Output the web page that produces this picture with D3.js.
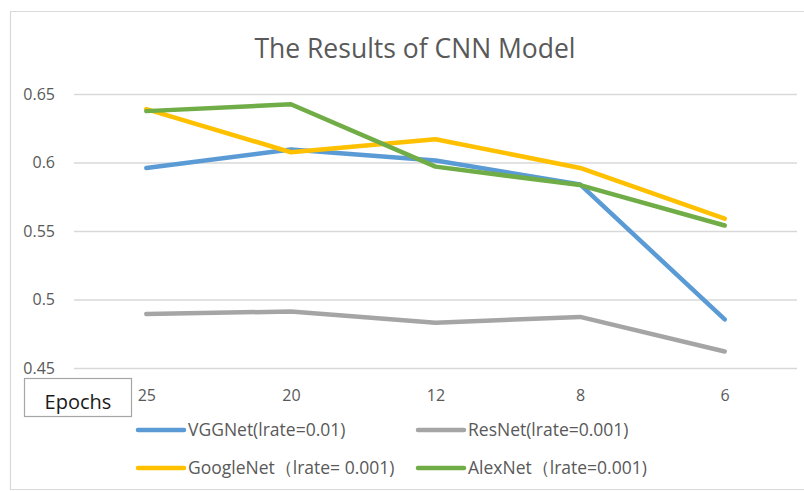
<!DOCTYPE html>
<html>
<head>
<meta charset="utf-8">
<script src="https://cdnjs.cloudflare.com/ajax/libs/d3/7.8.5/d3.min.js"></script>
<style>
  body { margin: 0; background: #fff; }
  svg { display: block; font-family: "Open Sans", sans-serif; }
</style>
</head>
<body>
<div id="chart"></div>
<script>
// data
var epochs = ["25", "20", "12", "8", "6"];
var vggValues = [0.596, 0.6095, 0.6015, 0.584, 0.4855];
var resValues = [0.4895, 0.4912, 0.483, 0.4873, 0.462];
var googleValues = [0.639, 0.6075, 0.617, 0.596, 0.559];
var alexValues = [0.6375, 0.6425, 0.597, 0.5835, 0.554];
var yTicks = [0.45, 0.5, 0.55, 0.6, 0.65];
var seriesNames = ["VGGNet(lrate=0.01)", "ResNet(lrate=0.001)", "GoogleNet（lrate= 0.001)", "AlexNet（lrate=0.001)"];
var seriesColors = ["#5b9bd5", "#a5a5a5", "#ffc000", "#70ad47"];

var series = [vggValues, resValues, googleValues, alexValues].map(function(v, i) {
  return { name: seriesNames[i], color: seriesColors[i], values: v };
});

var W = 804, H = 491;
var svg = d3.select("#chart").append("svg")
  .attr("width", W)
  .attr("height", H);

// chart frame (right edge is cut off in the original)
svg.append("path")
  .attr("d", "M804,11.5H10.5V489.5H804")
  .attr("fill", "none")
  .attr("stroke", "#d9d9d9")
  .attr("stroke-width", 1.2);

svg.append("text")
  .attr("x", 415)
  .attr("y", 58)
  .attr("text-anchor", "middle")
  .attr("fill", "#595959")
  .style("font-size", "26.5px")
  .text("The Results of CNN Model");

// plot area edges ("top" is taken by window.top)
var plotLeft = 74, plotRight = 797, plotTop = 94, plotBottom = 368;

var x = d3.scalePoint()
  .domain(epochs)
  .range([plotLeft, plotRight])
  .padding(0.5);

var y = d3.scaleLinear()
  .domain([0.45, 0.65])
  .range([plotBottom, plotTop]);

// y axis + gridlines
var yAxis = svg.append("g")
  .attr("transform", "translate(" + plotLeft + ",0)")
  .call(d3.axisLeft(y)
    .tickValues(yTicks)
    .tickFormat(d3.format(""))
    .tickSize(-(plotRight - plotLeft))
    .tickPadding(19));
yAxis.select(".domain").remove();
yAxis.selectAll("line").attr("stroke", "#d9d9d9").attr("stroke-width", 1.5);
yAxis.selectAll("text").attr("fill", "#595959").style("font-size", "16px").style("font-family", "Open Sans");

// x axis labels
var xAxis = svg.append("g")
  .attr("transform", "translate(0," + plotBottom + ")")
  .call(d3.axisBottom(x).tickSize(0).tickPadding(22));
xAxis.select(".domain").remove();
xAxis.selectAll("text").attr("fill", "#595959").style("font-size", "16px").style("font-family", "Open Sans");

var line = d3.line()
  .x(function(d, i) { return x(epochs[i]); })
  .y(function(d) { return y(d); });

svg.append("g").selectAll("path")
  .data(series)
  .enter()
  .append("path")
  .attr("d", function(d) { return line(d.values); })
  .attr("fill", "none")
  .attr("stroke", function(d) { return d.color; })
  .attr("stroke-width", 4.5)
  .attr("stroke-linejoin", "round")
  .attr("stroke-linecap", "round");

// axis title box
svg.append("rect")
  .attr("x", 24.5)
  .attr("y", 378.5)
  .attr("width", 107)
  .attr("height", 38)
  .attr("fill", "#fff")
  .attr("stroke", "#a6a6a6")
  .attr("stroke-width", 1.2);
svg.append("text")
  .attr("x", 78)
  .attr("y", 409)
  .attr("text-anchor", "middle")
  .attr("fill", "#1a1a1a")
  .style("font-size", "20px")
  .text("Epochs");

// legend, two rows of two
var legend = svg.append("g").selectAll("g")
  .data(series)
  .enter()
  .append("g")
  .attr("transform", function(d, i) {
    return "translate(" + (i % 2 === 0 ? 138 : 418) + "," + (i < 2 ? 430 : 468) + ")";
  });
legend.append("line")
  .attr("x1", 0)
  .attr("x2", 46)
  .attr("stroke", function(d) { return d.color; })
  .attr("stroke-width", 4.5)
  .attr("stroke-linecap", "round");
legend.append("text")
  .attr("x", 50)
  .attr("dy", "0.35em")
  .attr("fill", "#595959")
  .style("font-size", "17.5px")
  .text(function(d) { return d.name; });
</script>
</body>
</html>
